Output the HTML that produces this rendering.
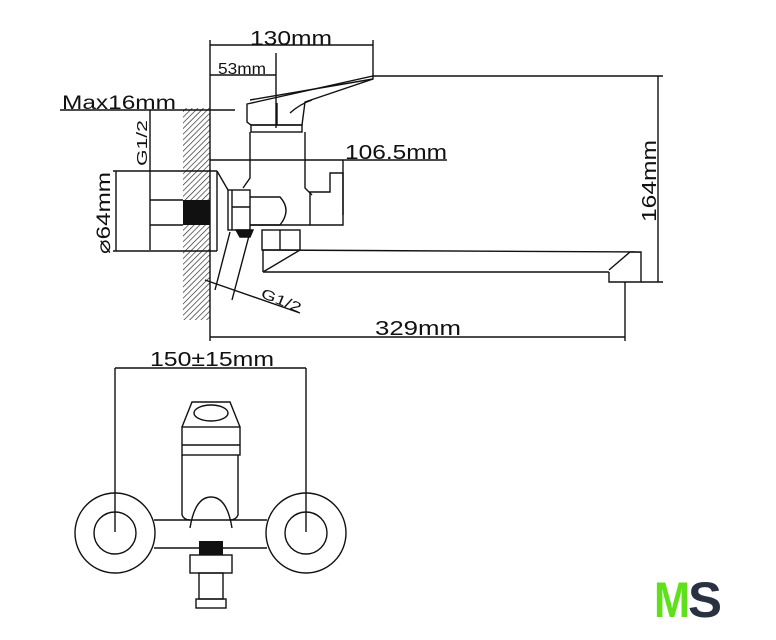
<!DOCTYPE html>
<html><head><meta charset="utf-8"><style>
html,body{margin:0;padding:0;background:#fff;}
svg{display:block;}
text{font-family:"Liberation Sans",sans-serif;fill:#111;}
</style></head><body>
<svg width="776" height="640" viewBox="0 0 776 640" xmlns="http://www.w3.org/2000/svg">
<defs>
<pattern id="h" width="4" height="4" patternUnits="userSpaceOnUse" patternTransform="rotate(45)">
<line x1="0" y1="0" x2="0" y2="4" stroke="#222" stroke-width="1.3"/>
</pattern>
</defs>
<g stroke="#111" stroke-width="1.4" fill="none">
<rect x="183" y="108" width="27" height="212" fill="url(#h)" stroke="none"/>
<line x1="210" y1="40" x2="210" y2="341"/>
<line x1="210" y1="45" x2="373" y2="45"/>
<line x1="373" y1="40" x2="373" y2="76"/>
<line x1="210" y1="75" x2="276" y2="75"/>
<line x1="276" y1="53" x2="276" y2="128"/>
<line x1="60" y1="110" x2="235" y2="110"/>
<line x1="210" y1="160" x2="343" y2="160"/>
<line x1="343" y1="160" x2="343" y2="215"/>
<line x1="343" y1="160" x2="447" y2="160"/>
<line x1="373" y1="76" x2="663" y2="76"/>
<line x1="658" y1="76" x2="658" y2="282"/>
<line x1="641" y1="282" x2="663" y2="282"/>
<line x1="210" y1="337" x2="625" y2="337"/>
<line x1="625" y1="282" x2="625" y2="341"/>
<line x1="113" y1="171" x2="217" y2="171"/>
<line x1="113" y1="251" x2="217" y2="251"/>
<line x1="116" y1="171" x2="116" y2="251"/>
<line x1="217" y1="171" x2="217" y2="251"/>
<line x1="217" y1="171" x2="228" y2="190"/>
<line x1="150" y1="110" x2="150" y2="250"/>
<line x1="150" y1="200" x2="183" y2="200"/>
<line x1="150" y1="225" x2="183" y2="225"/>
<path d="M247,104 L373,76 L373,79 L305,102 L302,125 L251,125 L247,122 Z"/>
<path d="M250,100 L373,79"/>
<path d="M277,103 L277,125 M290,113 Q300,104 312,100"/>
<rect x="251" y="125" width="51" height="7"/>
<path d="M250,132 L250,178 L243,188 M305,132 L305,188 L312,195"/>
<path d="M310,192 L310,225 L343,225 L343,173 L330,173 L330,192 Z"/>
<path d="M250,225 L310,225"/>
<rect x="228" y="190" width="22" height="40"/>
<line x1="232" y1="190" x2="232" y2="230"/>
<line x1="232" y1="207" x2="250" y2="207"/>
<path d="M250,197 L280,197 Q292,210 280,225 L250,225"/>
<rect x="262" y="230" width="38" height="20"/>
<line x1="280" y1="230" x2="280" y2="250"/>
<line x1="263" y1="250" x2="641" y2="252"/>
<line x1="263" y1="250" x2="263" y2="272"/>
<line x1="263" y1="272" x2="609" y2="272"/>
<path d="M263,272 L300,250"/>
<path d="M609,272 L609,282 L641,282 L641,252 L630,252 L609,270"/>
<line x1="230" y1="232" x2="215" y2="290"/>
<line x1="250" y1="232" x2="232" y2="300"/>
<line x1="205" y1="280" x2="300" y2="313"/>
<polygon points="236,230 253,230 250,237 240,237" fill="#111"/>
</g>
<rect x="183" y="200" width="27" height="25" fill="#111"/>
<text x="250" y="45" font-size="20" textLength="82" lengthAdjust="spacingAndGlyphs">130mm</text>
<text x="218" y="74" font-size="16" textLength="48" lengthAdjust="spacingAndGlyphs">53mm</text>
<text x="62" y="109" font-size="19" textLength="114" lengthAdjust="spacingAndGlyphs">Max16mm</text>
<text x="345" y="159" font-size="20" textLength="102" lengthAdjust="spacingAndGlyphs">106.5mm</text>
<text x="375" y="335" font-size="20" textLength="86" lengthAdjust="spacingAndGlyphs">329mm</text>
<text transform="translate(110,254) rotate(-90)" font-size="19" textLength="82" lengthAdjust="spacingAndGlyphs">⌀64mm</text>
<text transform="translate(147,166) rotate(-90)" font-size="15" textLength="46" lengthAdjust="spacingAndGlyphs">G1/2</text>
<text transform="translate(656,222) rotate(-90)" font-size="20" textLength="82" lengthAdjust="spacingAndGlyphs">164mm</text>
<text transform="translate(260,297) rotate(22)" font-size="14" textLength="42" lengthAdjust="spacingAndGlyphs">G1/2</text>
<g stroke="#111" stroke-width="1.4" fill="none">
<line x1="115" y1="368" x2="306" y2="368"/>
<line x1="115" y1="368" x2="115" y2="532"/>
<line x1="306" y1="368" x2="306" y2="532"/>
<circle cx="115" cy="533" r="40"/>
<circle cx="115" cy="533" r="21"/>
<circle cx="306" cy="533" r="40"/>
<circle cx="306" cy="533" r="21"/>
<line x1="154" y1="520" x2="267" y2="520"/>
<line x1="154" y1="548" x2="267" y2="548"/>
<path d="M182,455 L182,515 Q184,520 190,520 M238,455 L238,515 Q236,520 230,520"/>
<path d="M190,528 Q195,497 211,497 Q227,497 232,528"/>
<rect x="182" y="427" width="58" height="28"/>
<line x1="182" y1="445" x2="240" y2="445"/>
<path d="M182,427 L192,402 L230,402 L240,427"/>
<ellipse cx="211" cy="413" rx="17" ry="8"/>
<rect x="190" y="555" width="42" height="18"/>
<rect x="199" y="573" width="24" height="26"/>
<rect x="196" y="599" width="30" height="9"/>
</g>
<rect x="199" y="541" width="24" height="14" fill="#111"/>
<text x="150" y="366" font-size="20" textLength="124" lengthAdjust="spacingAndGlyphs">150±15mm</text>
<text x="654" y="617" font-size="50" font-weight="bold" style="fill:#5ee01a" textLength="36" lengthAdjust="spacingAndGlyphs">M</text>
<text x="688" y="617" font-size="50" font-weight="bold" style="fill:#2a3140" textLength="34" lengthAdjust="spacingAndGlyphs">S</text>
</svg>
</body></html>
